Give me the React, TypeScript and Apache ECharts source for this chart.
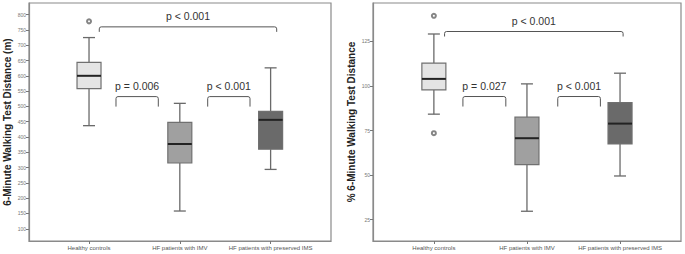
import React, { useEffect, useRef } from "react";
import * as echarts from "echarts";

const categories = ["Healthy controls", "HF patients with IMV", "HF patients with preserved IMS"];
const catPositions = [1, 2, 3];

// [min, Q1, median, Q3, max]
const sixMwdBoxes = [
  [437, 558, 600, 644, 725],
  [158, 315, 377, 448, 510],
  [294, 360, 456, 484, 626],
];
const sixMwdOutliers = [[1, 778]];

const pctBoxes = [
  [84.2, 97.8, 104, 112.9, 129.2],
  [29.7, 55.9, 70.7, 82.5, 101.2],
  [49.5, 67.5, 78.9, 90.7, 107.2],
];
const pctOutliers = [[1, 139.4], [1, 73.5]];

const sixMwdTicks = [100, 150, 200, 250, 300, 350, 400, 450, 500, 550, 600, 650, 700, 750, 800];
const pctTicks = [25, 50, 75, 100, 125];

// [from x, to x, y, label]
const sixMwdBrackets: [number, number, number, string][] = [
  [1.113, 3.067, 760, "p < 0.001"],
  [1.297, 1.763, 532, "p = 0.006"],
  [2.307, 2.773, 532, "p < 0.001"],
];
const pctBrackets: [number, number, number, string][] = [
  [1.115, 3.033, 130.6, "p < 0.001"],
  [1.312, 1.773, 94.1, "p = 0.027"],
  [2.331, 2.789, 94.1, "p < 0.001"],
];

// styles
const boxFills = ["#e4e4e4", "#a0a0a0", "#6a6a6a"];
const bracketDrops = [5, 10, 10];
const FONT = "Liberation Sans, Arial, sans-serif";

function boxRender(params: any, api: any) {
  const x = api.value(0);
  const mn = api.coord([x, api.value(1)]);
  const q1 = api.coord([x, api.value(2)]);
  const md = api.coord([x, api.value(3)]);
  const q3 = api.coord([x, api.value(4)]);
  const mx = api.coord([x, api.value(5)]);
  const cx = mn[0];
  const bw = 24;
  const cw = 12;
  const wStyle = { stroke: "#6a6a6a", lineWidth: 1.3 };
  return {
    type: "group",
    children: [
      { type: "line", shape: { x1: cx, y1: mx[1], x2: cx, y2: q3[1] }, style: wStyle },
      { type: "line", shape: { x1: cx, y1: q1[1], x2: cx, y2: mn[1] }, style: wStyle },
      { type: "line", shape: { x1: cx - cw / 2, y1: mx[1], x2: cx + cw / 2, y2: mx[1] }, style: wStyle },
      { type: "line", shape: { x1: cx - cw / 2, y1: mn[1], x2: cx + cw / 2, y2: mn[1] }, style: wStyle },
      {
        type: "rect",
        shape: { x: cx - bw / 2, y: q3[1], width: bw, height: q1[1] - q3[1] },
        style: { fill: boxFills[params.dataIndex], stroke: "#707070", lineWidth: 1.2 },
      },
      { type: "line", shape: { x1: cx - bw / 2, y1: md[1], x2: cx + bw / 2, y2: md[1] }, style: { stroke: "#222", lineWidth: 2 } },
    ],
  };
}

function bracketRender(params: any, api: any) {
  const a = api.coord([api.value(0), api.value(2)]);
  const b = api.coord([api.value(1), api.value(2)]);
  const drop = bracketDrops[params.dataIndex];
  const y = a[1];
  const r = 2;
  const pathData = `M${a[0]},${y + drop} L${a[0]},${y + r} Q${a[0]},${y} ${a[0] + r},${y} L${b[0] - r},${y} Q${b[0]},${y} ${b[0]},${y + r} L${b[0]},${y + drop}`;
  return {
    type: "group",
    children: [
      { type: "path", shape: { pathData }, style: { fill: "none", stroke: "#555", lineWidth: 1 } },
      {
        type: "text",
        x: (a[0] + b[0]) / 2,
        y: y - 10.5,
        style: {
          text: api.value(3),
          fill: "#333",
          font: `10.5px ${FONT}`,
          align: "center",
          verticalAlign: "middle",
        },
      },
    ],
  };
}

export default function App() {
  const ref = useRef<HTMLDivElement>(null);
  useEffect(() => {
    const chart = echarts.init(ref.current!, null, { renderer: "svg" });
    const xAxisCommon = (min: number, max: number, gridIndex: number) => ({
      type: "value",
      gridIndex,
      min,
      max,
      splitLine: { show: false },
      axisLine: { show: true, lineStyle: { color: "#8a8a8a", width: 1.2 } },
      axisTick: { show: true, length: 3, lineStyle: { color: "#777" }, customValues: catPositions },
      axisLabel: {
        customValues: catPositions,
        formatter: (v: number) => categories[Math.round(v) - 1] ?? "",
        fontSize: 6,
        color: "#555",
        fontFamily: FONT,
        margin: 4,
      },
    });
    const yAxisCommon = (min: number, max: number, gridIndex: number, ticks: number[], name: string, gap: number) => ({
      type: "value",
      gridIndex,
      min,
      max,
      name,
      nameLocation: "middle",
      nameRotate: 90,
      nameGap: gap,
      nameTextStyle: { fontSize: 10, fontWeight: "bold", color: "#222", fontFamily: FONT },
      splitLine: { show: false },
      axisLine: { show: true, lineStyle: { color: "#8a8a8a", width: 1.2 } },
      axisTick: { show: true, length: 3, lineStyle: { color: "#777" }, customValues: ticks },
      axisLabel: { customValues: ticks, fontSize: 5, color: "#777", fontFamily: FONT, margin: 3 },
    });
    const toData = (boxes: number[][]) => boxes.map((b, i) => [catPositions[i], ...b]);
    const br = (list: [number, number, number, string][]) => list.map((b) => [b[0], b[1], b[2], b[3]]);
    const outlierStyle = {
      type: "scatter",
      symbol: "emptyCircle",
      symbolSize: 4,
      itemStyle: { color: "#666", borderColor: "#666", borderWidth: 0.8 },
      z: 5,
    };
    chart.setOption({
      animation: false,
      grid: [
        { left: 29, top: 3, width: 302, height: 238, show: true, borderColor: "#8a8a8a", borderWidth: 1.2, backgroundColor: "#fff" },
        { left: 373, top: 3, width: 308, height: 238, show: true, borderColor: "#8a8a8a", borderWidth: 1.2, backgroundColor: "#fff" },
      ],
      xAxis: [xAxisCommon(0.339, 3.665, 0), xAxisCommon(0.346, 3.655, 1)],
      yAxis: [
        yAxisCommon(60, 838, 0, sixMwdTicks, "6-Minute Walking Test Distance (m)", 17),
        yAxisCommon(13, 146.6, 1, pctTicks, "% 6-Minute Walking Test Distance", 17),
      ],
      series: [
        {
          type: "custom",
          xAxisIndex: 0,
          yAxisIndex: 0,
          renderItem: boxRender,
          data: toData(sixMwdBoxes),
          encode: { x: 0, y: [1, 2, 3, 4, 5] },
          clip: false,
        },
        {
          type: "custom",
          xAxisIndex: 1,
          yAxisIndex: 1,
          renderItem: boxRender,
          data: toData(pctBoxes),
          encode: { x: 0, y: [1, 2, 3, 4, 5] },
          clip: false,
        },
        { ...outlierStyle, xAxisIndex: 0, yAxisIndex: 0, data: sixMwdOutliers },
        { ...outlierStyle, xAxisIndex: 1, yAxisIndex: 1, data: pctOutliers },
        {
          type: "custom",
          xAxisIndex: 0,
          yAxisIndex: 0,
          renderItem: bracketRender,
          data: br(sixMwdBrackets),
          dimensions: ["x1", "x2", "y", { name: "label", type: "ordinal" }],
          encode: { x: [0, 1], y: 2 },
          clip: false,
        },
        {
          type: "custom",
          xAxisIndex: 1,
          yAxisIndex: 1,
          renderItem: bracketRender,
          data: br(pctBrackets),
          dimensions: ["x1", "x2", "y", { name: "label", type: "ordinal" }],
          encode: { x: [0, 1], y: 2 },
          clip: false,
        },
      ],
    });
    return () => chart.dispose();
  }, []);
  return (
    <div
      ref={ref}
      style={{ position: "fixed", left: 0, top: 0, width: 685, height: 254, background: "#fff" }}
    />
  );
}
